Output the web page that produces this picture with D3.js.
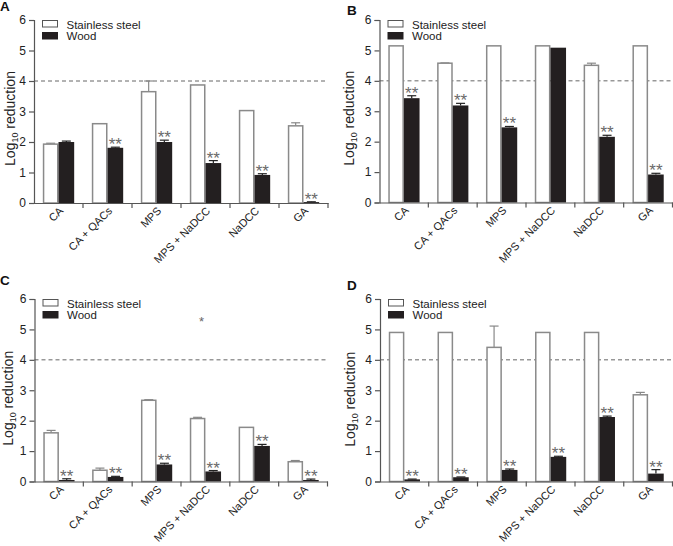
<!DOCTYPE html>
<html>
<head>
<meta charset="utf-8">
<script src="https://cdn.jsdelivr.net/npm/d3@7"></script>
<style>
  html, body { margin: 0; padding: 0; background: #fff; }
  svg { display: block; font-family: "Liberation Sans", Arial, sans-serif; }
</style>
</head>
<body>
<svg id="chart" width="673" height="546"></svg>
<script>
// ---------- data ----------
const categories = ["CA", "CA + QACs", "MPS", "MPS + NaDCC", "NaDCC", "GA"];
const seriesNames = ["Stainless steel", "Wood"];
const yTicks = [0, 1, 2, 3, 4, 5, 6];
const limitLine = 4;

const A_steel    = [1.93, 2.60, 3.65, 3.87, 3.03, 2.53];
const A_steelErr = [0.03, 0.00, 0.35, 0.00, 0.00, 0.10];
const A_wood     = [2.00, 1.81, 2.00, 1.31, 0.92, 0.03];
const A_woodErr  = [0.03, 0.02, 0.06, 0.08, 0.04, 0.01];
const A_sig      = ["", "**", "**", "**", "**", "**"];

const B_steel    = [5.15, 4.58, 5.15, 5.15, 4.51, 5.15];
const B_steelErr = [0.00, 0.01, 0.00, 0.00, 0.07, 0.00];
const B_wood     = [3.43, 3.19, 2.47, 5.09, 2.16, 0.92];
const B_woodErr  = [0.08, 0.07, 0.03, 0.00, 0.05, 0.04];
const B_sig      = ["**", "**", "**", "", "**", "**"];

const C_steel    = [1.60, 0.37, 2.67, 2.07, 1.78, 0.65];
const C_steelErr = [0.08, 0.07, 0.02, 0.04, 0.00, 0.04];
const C_wood     = [0.05, 0.15, 0.56, 0.33, 1.17, 0.05];
const C_woodErr  = [0.04, 0.02, 0.04, 0.03, 0.05, 0.03];
const C_sig      = ["**", "**", "**", "**", "**", "**"];

const D_steel    = [4.90, 4.90, 4.41, 4.90, 4.90, 2.85];
const D_steelErr = [0.00, 0.00, 0.70, 0.00, 0.00, 0.08];
const D_wood     = [0.07, 0.14, 0.38, 0.81, 2.12, 0.26];
const D_woodErr  = [0.01, 0.01, 0.03, 0.02, 0.03, 0.13];
const D_sig      = ["**", "**", "**", "**", "**", "**"];

// ---------- layout ----------
const panels = [
  {letter: "A", steel: A_steel, steelErr: A_steelErr, wood: A_wood, woodErr: A_woodErr, sig: A_sig,
   left: 34, right: 328, top: 20, bottom: 203, letterX: 0, letterY: 11, ylabX: 15, ylabDy: 7},
  {letter: "B", steel: B_steel, steelErr: B_steelErr, wood: B_wood, woodErr: B_woodErr, sig: B_sig,
   left: 379.5, right: 672.5, top: 20, bottom: 202.5, letterX: 347, letterY: 15, ylabX: 354, ylabDy: 7},
  {letter: "C", steel: C_steel, steelErr: C_steelErr, wood: C_wood, woodErr: C_woodErr, sig: C_sig,
   left: 34.5, right: 327.5, top: 299, bottom: 481.5, letterX: 0, letterY: 285, ylabX: 13, ylabDy: 8,
   extra: {cat: "MPS + NaDCC", value: 5.35, text: "*"}},
  {letter: "D", steel: D_steel, steelErr: D_steelErr, wood: D_wood, woodErr: D_woodErr, sig: D_sig,
   left: 380, right: 672.5, top: 299, bottom: 481.5, letterX: 347, letterY: 290, ylabX: 355, ylabDy: 9}
];

const svg = d3.select("#chart");
const axisColor = "#555";
const textColor = "#222";

panels.forEach(p => {
  const g = svg.append("g");
  const x = d3.scaleBand().domain(categories).range([p.left, p.right]).padding(0);
  const xs = d3.scaleBand().domain(seriesNames)
    .range([x.bandwidth() * 0.18, x.bandwidth() * 0.82]).padding(0);
  const y = d3.scaleLinear().domain([0, 6]).range([p.bottom, p.top]);

  // dashed reference line at 4 log
  g.append("line")
    .attr("x1", p.left).attr("x2", p.right)
    .attr("y1", y(limitLine)).attr("y2", y(limitLine))
    .attr("stroke", "#666").attr("stroke-width", 1)
    .attr("stroke-dasharray", "4,3");

  const rows = categories.map((c, i) => ({
    cat: c, steel: p.steel[i], steelErr: p.steelErr[i],
    wood: p.wood[i], woodErr: p.woodErr[i], sig: p.sig[i]
  }));

  // error bars (upper only)
  rows.forEach(r => {
    [["Stainless steel", r.steel, r.steelErr, "#888"], ["Wood", r.wood, r.woodErr, "#222"]].forEach(([s, v, e, col]) => {
      if (e <= 0) return;
      const cx = x(r.cat) + xs(s) + xs.bandwidth() / 2;
      g.append("line").attr("x1", cx).attr("x2", cx)
        .attr("y1", y(v)).attr("y2", y(v + e))
        .attr("stroke", col).attr("stroke-width", 1.2);
      g.append("line").attr("x1", cx - 4.5).attr("x2", cx + 4.5)
        .attr("y1", y(v + e)).attr("y2", y(v + e))
        .attr("stroke", col).attr("stroke-width", 1.2);
    });
  });

  g.selectAll("rect.steel").data(rows).join("rect")
    .attr("class", "steel")
    .attr("x", d => x(d.cat) + xs("Stainless steel") + 0.75)
    .attr("width", xs.bandwidth() - 1.5)
    .attr("y", d => y(d.steel))
    .attr("height", d => y(0) - y(d.steel))
    .attr("fill", "#fff").attr("stroke", "#8a8a8a").attr("stroke-width", 1.5);

  g.selectAll("rect.wood").data(rows).join("rect")
    .attr("class", "wood")
    .attr("x", d => x(d.cat) + xs("Wood"))
    .attr("width", xs.bandwidth())
    .attr("y", d => y(d.wood))
    .attr("height", d => y(0) - y(d.wood))
    .attr("fill", "#231f20");

  // significance stars
  g.selectAll("text.sig").data(rows.filter(d => d.sig)).join("text")
    .attr("class", "sig")
    .attr("x", d => x(d.cat) + xs("Wood") + xs.bandwidth() / 2)
    .attr("y", d => y(d.wood + d.woodErr) + 3)
    .attr("text-anchor", "middle")
    .attr("font-family", "Liberation Sans, Arial, sans-serif")
    .attr("font-size", 17)
    .attr("fill", "#6a6a6a")
    .text(d => d.sig);

  if (p.extra) {
    g.append("text")
      .attr("x", x(p.extra.cat) + xs("Wood") - 4)
      .attr("y", y(p.extra.value) + 7)
      .attr("text-anchor", "middle")
      .attr("font-family", "Liberation Sans, Arial, sans-serif")
      .attr("font-size", 13).attr("fill", "#666")
      .text(p.extra.text);
  }

  // y axis
  const yAxis = g.append("g").attr("transform", `translate(${p.left},0)`)
    .call(d3.axisLeft(y).tickValues(yTicks).tickFormat(d3.format("d")).tickSize(5).tickPadding(3));
  yAxis.select(".domain").attr("stroke", axisColor).attr("stroke-width", 1.2);
  yAxis.selectAll(".tick line").attr("stroke", axisColor).attr("stroke-width", 1.2);
  yAxis.selectAll(".tick text").attr("font-size", 12).attr("fill", textColor)
    .attr("font-family", "Liberation Sans, Arial, sans-serif");

  // x axis: line + boundary ticks + rotated labels
  const xAxis = g.append("g").attr("transform", `translate(0,${p.bottom})`)
    .call(d3.axisBottom(x).tickSize(0).tickPadding(0));
  xAxis.select(".domain").attr("stroke", axisColor).attr("stroke-width", 1.2);
  xAxis.selectAll(".tick text")
    .attr("font-size", 11).attr("fill", textColor)
    .attr("font-family", "Liberation Sans, Arial, sans-serif")
    .attr("text-anchor", "end")
    .attr("y", 0)
    .attr("dy", null)
    .attr("transform", "translate(5.5,8.5) rotate(-45)");
  const bounds = categories.map(c => x(c)).concat([x(categories[categories.length - 1]) + x.bandwidth()]);
  g.selectAll("line.bt").data(bounds.slice(1)).join("line")
    .attr("class", "bt")
    .attr("x1", d => d).attr("x2", d => d)
    .attr("y1", p.bottom).attr("y2", p.bottom + 5)
    .attr("stroke", axisColor).attr("stroke-width", 1.2);

  // y label
  const yl = g.append("text")
    .attr("transform", `translate(${p.ylabX},${(p.top + p.bottom) / 2 + p.ylabDy}) rotate(-90)`)
    .attr("text-anchor", "middle")
    .attr("font-size", 14).attr("fill", textColor);
  yl.append("tspan").text("Log");
  yl.append("tspan").attr("font-size", 9).attr("dy", 3).text("10");
  yl.append("tspan").attr("dy", -3).text(" reduction");

  // legend
  const lg = g.append("g").attr("transform", `translate(${p.left + 8.5},${p.top})`);
  lg.append("rect").attr("x", 0).attr("y", 0.5).attr("width", 15).attr("height", 6.5)
    .attr("fill", "#fff").attr("stroke", "#555").attr("stroke-width", 1);
  lg.append("rect").attr("x", -0.5).attr("y", 12).attr("width", 16).attr("height", 7.5)
    .attr("fill", "#231f20");
  lg.append("text").attr("x", 24).attr("y", 8.5).attr("font-size", 11.5).attr("fill", textColor).text(seriesNames[0]);
  lg.append("text").attr("x", 24).attr("y", 20).attr("font-size", 11.5).attr("fill", textColor).text(seriesNames[1]);

  // panel letter
  g.append("text").attr("x", p.letterX).attr("y", p.letterY)
    .attr("font-size", 13.5).attr("font-weight", "bold").attr("fill", "#111")
    .text(p.letter);
});
</script>
</body>
</html>
